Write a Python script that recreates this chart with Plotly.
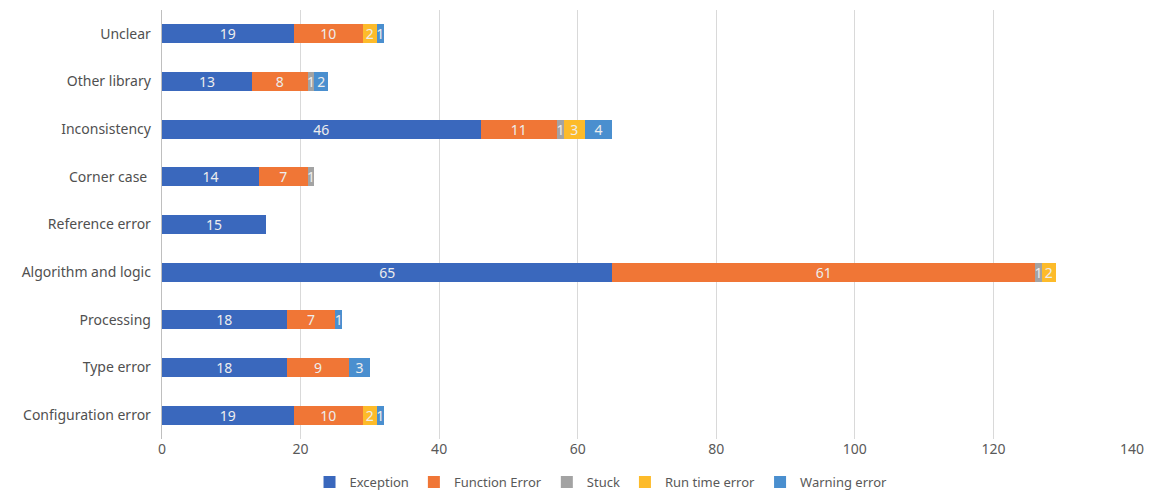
import plotly.graph_objects as go

categories = ["Configuration error", "Type error", "Processing", "Algorithm and logic",
              "Reference error", "Corner case ", "Inconsistency", "Other library", "Unclear"]
exception = [19, 18, 18, 65, 15, 14, 46, 13, 19]
function_error = [10, 9, 7, 61, 0, 7, 11, 8, 10]
stuck = [0, 0, 0, 1, 0, 1, 1, 1, 0]
run_time_error = [2, 0, 0, 2, 0, 0, 3, 0, 2]
warning_error = [1, 3, 1, 0, 0, 0, 4, 2, 1]
x_ticks = [0, 20, 40, 60, 80, 100, 120, 140]

series = [
    ("Exception", exception, "#3A68BD"),
    ("Function Error", function_error, "#F07636"),
    ("Stuck", stuck, "#A3A3A3"),
    ("Run time error", run_time_error, "#FDBB2A"),
    ("Warning error", warning_error, "#4A8FCF"),
]

fig = go.Figure()
for name, vals, color in series:
    fig.add_trace(go.Bar(
        y=categories, x=vals, name=name, orientation="h",
        marker=dict(color=color, line=dict(width=0)),
        text=[str(v) if v else "" for v in vals],
        textposition="inside", insidetextanchor="middle", textangle=0,
        textfont=dict(color="#EDEDED", size=14, family="Noto Sans"),
        constraintext="none", cliponaxis=False,
    ))

fig.update_layout(
    barmode="stack", bargap=0.6,
    width=1149, height=493,
    margin=dict(l=162, r=17, t=10, b=54, autoexpand=False),
    plot_bgcolor="white", paper_bgcolor="white",
    font=dict(family="Noto Sans", size=14, color="#595959"),
    uniformtext=dict(minsize=14, mode="show"),
    legend=dict(orientation="h", x=0.4526, xanchor="center",
                yref="container", y=0.022, yanchor="middle",
                font=dict(size=13, color="#595959"), itemwidth=30, traceorder="normal"),
    xaxis=dict(range=[0, 140], tickvals=x_ticks, showgrid=True, gridcolor="#D9D9D9",
               gridwidth=1, zeroline=False, showline=False, ticks="", automargin=False,
               tickfont=dict(size=14, color="#595959")),
    yaxis=dict(showline=True, linecolor="#BFBFBF", linewidth=1, ticks="", automargin=False,
               tickfont=dict(size=14, color="#505050"), ticksuffix="  "),
)

fig.write_html("out.html", config={"displayModeBar": False},
               post_script="document.body.style.margin='0';document.body.style.overflow='hidden';")
